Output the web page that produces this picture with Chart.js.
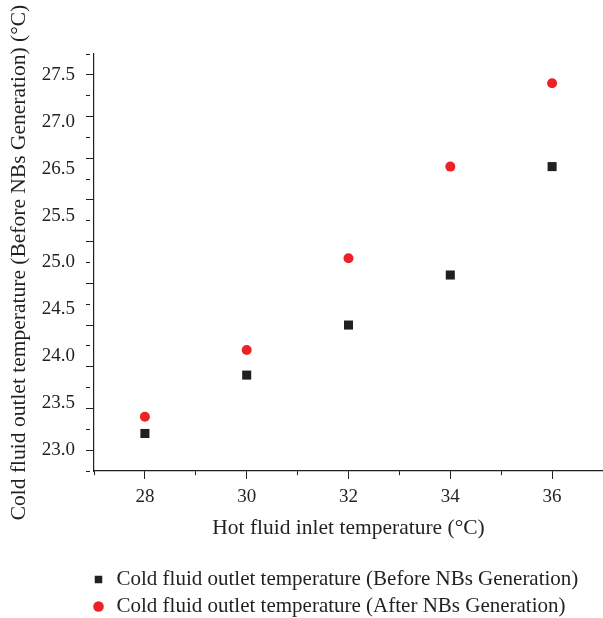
<!DOCTYPE html>
<html>
<head>
<meta charset="utf-8">
<script src="https://cdn.jsdelivr.net/npm/chart.js@4/dist/chart.umd.min.js"></script>
<style>
  body { margin: 0; background: #fff; }
</style>
</head>
<body>
<canvas id="tempChart" width="603" height="618"></canvas>
<script>
// Data
const hotInlet = [28, 30, 32, 34, 36];
const coldBefore = [23.2, 23.9, 24.5, 25.1, 26.4];
const coldAfter = [23.4, 24.2, 25.3, 26.4, 27.4];
// the original figure prints these nine labels spread evenly over the axis (26.0 is missing)
const yTickLabels = ['23.0', '23.5', '24.0', '24.5', '25.0', '25.5', '26.5', '27.0', '27.5'];

const ink = '#231f20';
const red = '#ec2227';
const serif = 'Liberation Serif';

const toPoints = (ys) => hotInlet.map((x, i) => ({ x: x, y: ys[i] }));

// nudge the legend so its rows line up under the y axis
const legendShift = {
    id: 'legendShift',
    afterLayout(chart) {
        chart.legend.left = 85;
        chart.legend.top = 563;
    }
};

const ctx = document.getElementById('tempChart').getContext('2d');
const tempChart = new Chart(ctx, {
    type: 'scatter',
    data: {
        datasets: [{
            label: 'Cold fluid outlet temperature (Before NBs Generation)',
            data: toPoints(coldBefore),
            pointStyle: 'rect',
            pointRadius: 6.4,
            pointHoverRadius: 6.4,
            pointBorderWidth: 0,
            backgroundColor: ink,
            borderColor: ink
        }, {
            label: 'Cold fluid outlet temperature (After NBs Generation)',
            data: toPoints(coldAfter),
            pointStyle: 'circle',
            pointRadius: 5,
            pointHoverRadius: 5,
            pointBorderWidth: 0,
            backgroundColor: red,
            borderColor: red
        }]
    },
    options: {
        responsive: false,
        animation: false,
        layout: { autoPadding: false, padding: { top: 54, left: 0, right: 0, bottom: 0 } },
        scales: {
            x: {
                type: 'linear',
                min: 27,
                max: 37,
                border: { color: ink, width: 1.2 },
                grid: {
                    drawOnChartArea: false,
                    color: ink,
                    tickLength: 8,
                    tickBorderDash: (c) => (c.tick && c.tick.value % 2 !== 0) ? [4, 20] : []
                },
                ticks: {
                    stepSize: 1,
                    padding: 7,
                    color: ink,
                    font: { family: serif, size: 19 },
                    maxRotation: 0,
                    autoSkip: false,
                    callback: (v) => (v % 2 === 0 ? String(v) : '')
                },
                title: {
                    display: true,
                    text: 'Hot fluid inlet temperature (°C)',
                    color: ink,
                    font: { family: serif, size: 21.5 },
                    padding: { top: 4, bottom: 13 }
                },
                afterFit: (s) => {
                    s.height = 83;
                    s.paddingLeft = 0;
                    s.paddingRight = 0;
                }
            },
            yLab: {
                type: 'linear',
                position: 'left',
                weight: 10,
                min: 22.75,
                max: 27.75,
                border: { display: false },
                grid: { display: false, drawTicks: false },
                afterBuildTicks: (s) => {
                    s.ticks = yTickLabels.map((l, i) => ({ value: 23 + i * 4.5 / (yTickLabels.length - 1) }));
                },
                ticks: {
                    padding: 11,
                    color: ink,
                    font: { family: serif, size: 19 },
                    callback: (v, i) => yTickLabels[i]
                },
                title: {
                    display: true,
                    text: 'Cold fluid outlet temperature (Before NBs Generation) (°C)',
                    color: ink,
                    font: { family: serif, size: 21.5 },
                    padding: { top: 6, bottom: 0 }
                },
                afterFit: (s) => { s.width = 86; }
            },
            y: {
                type: 'linear',
                position: 'left',
                weight: 0,
                min: 22.75,
                max: 27.75,
                border: { color: ink, width: 1.2 },
                grid: {
                    drawOnChartArea: false,
                    color: ink,
                    tickLength: 8,
                    tickBorderDash: (c) => (c.tick && (c.tick.value * 2) % 1 !== 0) ? [4, 20] : []
                },
                ticks: { display: false, stepSize: 0.25 },
                afterFit: (s) => { s.width = 8; }
            }
        },
        plugins: {
            legend: {
                position: 'bottom',
                fullSize: false,
                align: 'start',
                labels: {
                    usePointStyle: true,
                    boxWidth: 15,
                    boxHeight: 7.5,
                    padding: 6,
                    color: ink,
                    font: { family: serif, size: 21 }
                }
            },
            tooltip: { enabled: false }
        }
    },
    plugins: [legendShift]
});
</script>
</body>
</html>
